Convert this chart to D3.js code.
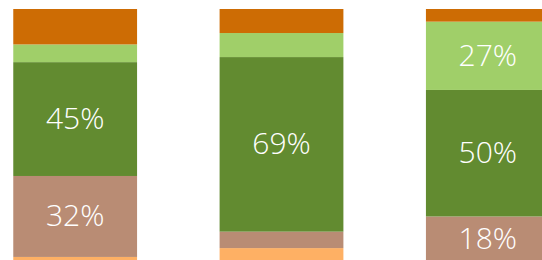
<!DOCTYPE html>
<html lang="en">

<head>
  <meta charset="UTF-8">
  <title>Stacked bars</title>
  <style>
    body {
      margin: 0;
      background: #fff;
    }

    #chart text {
      font-family: "Open Sans", sans-serif;
    }
  </style>
</head>

<body>
  <div id="chart"></div>
  <script src="https://cdn.jsdelivr.net/npm/d3@7"></script>
  <script>
    // data, bottom segment first
    const categories = ['A', 'B', 'C'];
    const seriesNames = ['s1', 's2', 's3', 's4', 's5'];
    const s1 = [2, 5.5, 0];
    const s2 = [32, 6.5, 18];
    const s3 = [45, 69, 50];
    const s4 = [7, 9.5, 27];
    const s5 = [14, 9.5, 5];
    const colors = ['#FEB064', '#B98C74', '#628B30', '#A0CF69', '#CD6C04'];

    const width = 542, height = 260;
    const seriesValues = [s1, s2, s3, s4, s5];
    const rows = categories.map((c, i) => {
      let row = { cat: c };
      seriesNames.forEach((s, j) => row[s] = seriesValues[j][i]);
      return row;
    });

    const svg = d3.select('#chart').append('svg')
      .attr('width', width)
      .attr('height', height);

    const x = d3.scaleBand()
      .domain(categories)
      .range([-28, 591])
      .paddingInner(0.4)
      .paddingOuter(0.2);

    const y = d3.scaleLinear()
      .domain([0, 100])
      .range([262, 9]);

    const stack = d3.stack().keys(seriesNames);
    const layers = stack(rows);

    const g = svg.selectAll('g.layer')
      .data(layers)
      .enter().append('g')
      .attr('class', 'layer')
      .attr('fill', (d, i) => colors[i]);

    g.selectAll('rect')
      .data(d => d)
      .enter().append('rect')
      .attr('x', d => x(d.data.cat))
      .attr('width', x.bandwidth())
      .attr('y', d => y(d[1]))
      .attr('height', d => y(d[0]) - y(d[1]));

    // labels only on the big segments
    g.selectAll('text')
      .data(d => d.map(p => ({ p, key: d.key })))
      .enter()
      .filter(d => d.p.data[d.key] >= 15)
      .append('text')
      .attr('x', d => x(d.p.data.cat) + x.bandwidth() / 2)
      .attr('y', d => (y(d.p[0]) + y(d.p[1])) / 2)
      .attr('dy', '0.33em')
      .attr('text-anchor', 'middle')
      .attr('fill', '#fff')
      .style('font-size', '30px')
      .style('font-weight', 300)
      .text(d => d.p.data[d.key] + '%');
  </script>
</body>

</html>
